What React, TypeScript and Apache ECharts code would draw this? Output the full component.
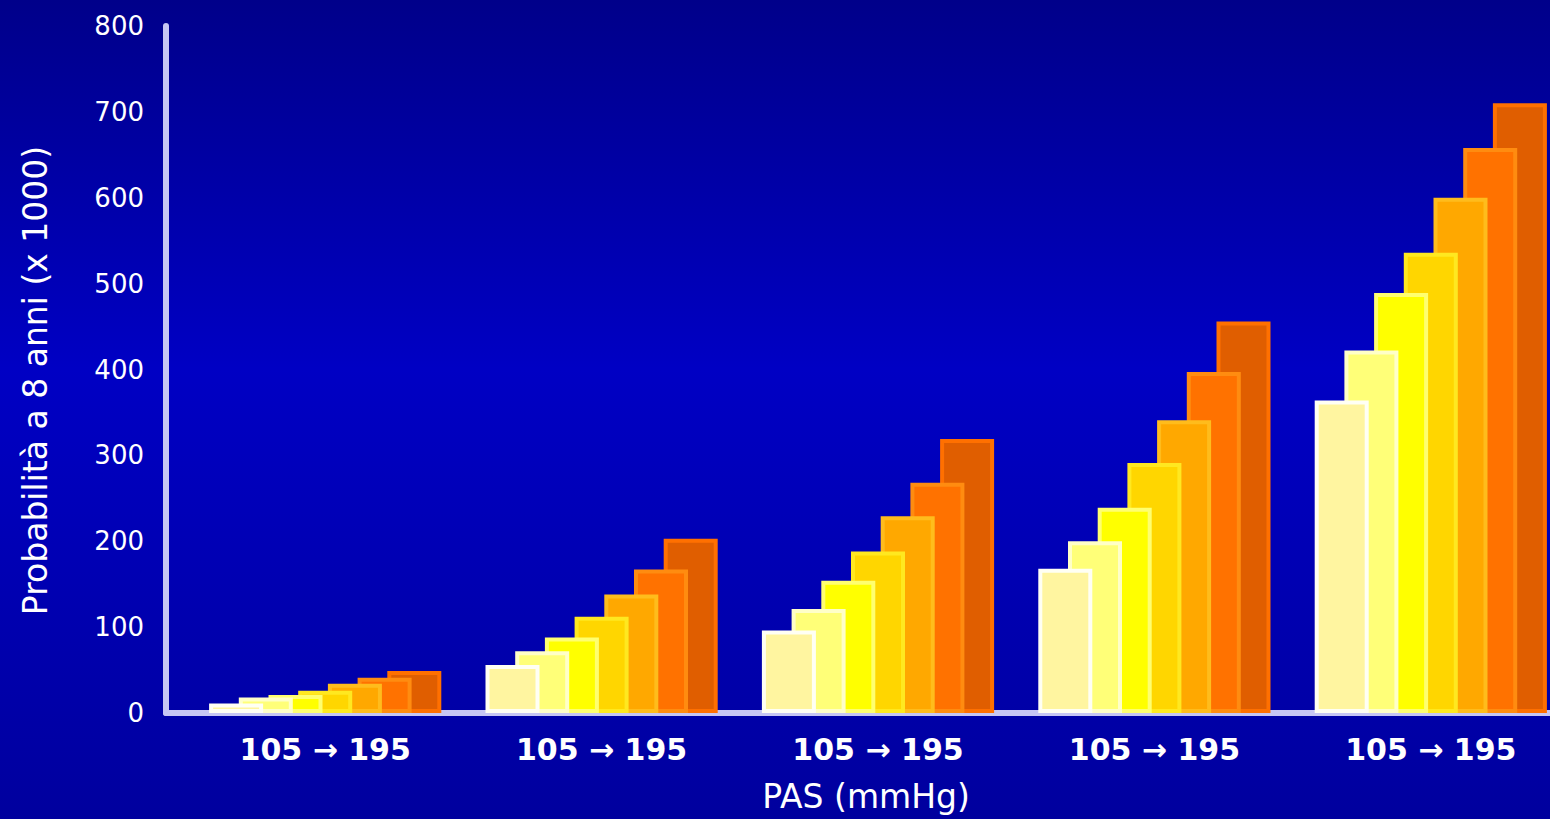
import React, { useEffect, useRef } from "react";
import * as echarts from "echarts";

// Five groups, each showing systolic pressure from 105 to 195 mmHg in steps of 15
const categories = ["105 → 195", "105 → 195", "105 → 195", "105 → 195", "105 → 195"];
const sbpLevels = ["105", "120", "135", "150", "165", "180", "195"];

// 8-year probability (x 1000) per group, one array per pressure level
const pas105 = [11, 56, 96, 168, 364];
const pas120 = [18, 72, 121, 200, 422];
const pas135 = [21, 88, 154, 239, 489];
const pas150 = [26, 112, 188, 291, 536];
const pas165 = [34, 138, 229, 341, 600];
const pas180 = [41, 167, 268, 397, 658];
const pas195 = [49, 203, 319, 456, 710];

const levelValues = [pas105, pas120, pas135, pas150, pas165, pas180, pas195];

const yTicks = { min: 0, max: 800, step: 100 };

const fills = ["#FFF5A0", "#FFFF78", "#FFFF00", "#FFD600", "#FFA800", "#FF7200", "#E05E00"];
const borders = ["#FFFFF4", "#FFFFC8", "#FFFF70", "#FFE820", "#FFBC1C", "#FF8C10", "#FF7000"];

const FONT = "DejaVu Sans";

export default function App() {
  const ref = useRef<HTMLDivElement>(null);

  useEffect(() => {
    if (!ref.current) return;
    const chart = echarts.init(ref.current, undefined, { renderer: "svg" });

    const series = levelValues.map((vals, i) => ({
      type: "bar",
      name: sbpLevels[i],
      xAxisIndex: 0,
      yAxisIndex: 0,
      data: vals,
      barWidth: 54,
      barGap: "-45%",
      z: 20 - i,
      itemStyle: {
        color: fills[i],
        borderColor: borders[i],
        borderWidth: 4,
      },
    }));

    chart.setOption({
      animation: false,
      backgroundColor: {
        type: "linear",
        x: 0,
        y: 0,
        x2: 0,
        y2: 1,
        colorStops: [
          { offset: 0, color: "#00008A" },
          { offset: 0.45, color: "#0000C4" },
          { offset: 1, color: "#00009E" },
        ],
      },
      grid: [
        // bars
        { left: 187, width: 1382, top: 26, bottom: 106, outerBoundsMode: "none", containLabel: false },
        // visible axes frame
        { left: 166, right: 0, top: 26, bottom: 106, outerBoundsMode: "none", containLabel: false },
      ],
      xAxis: [
        {
          type: "category",
          gridIndex: 0,
          data: categories,
          axisLine: { show: false },
          axisTick: { show: false },
          axisLabel: {
            color: "#FFFFFF",
            fontFamily: FONT,
            fontWeight: "bold",
            fontSize: 30,
            margin: 21,
          },
        },
        {
          type: "category",
          gridIndex: 1,
          data: [],
          offset: 3,
          axisLine: { show: true, lineStyle: { color: "#C6C6F4", width: 6 } },
          axisTick: { show: false },
          axisLabel: { show: false },
          name: "PAS (mmHg)",
          nameLocation: "middle",
          nameGap: 64,
          nameTextStyle: {
            color: "#FFFFFF",
            fontFamily: FONT,
            fontSize: 33,
            padding: [0, 0, 0, 16],
          },
        },
      ],
      yAxis: [
        {
          type: "value",
          gridIndex: 0,
          min: yTicks.min,
          max: yTicks.max,
          interval: yTicks.step,
          show: false,
        },
        {
          type: "value",
          gridIndex: 1,
          min: yTicks.min,
          max: yTicks.max,
          interval: yTicks.step,
          axisLine: { show: true, lineStyle: { color: "#C6C6F4", width: 6 } },
          axisTick: { show: false },
          splitLine: { show: false },
          axisLabel: {
            color: "#FFFFFF",
            fontFamily: FONT,
            fontSize: 26,
            margin: 22,
          },
          name: "Probabilità a 8 anni (x 1000)",
          nameLocation: "middle",
          nameGap: 114,
          nameTextStyle: {
            color: "#FFFFFF",
            fontFamily: FONT,
            fontSize: 33,
            padding: [0, 22, 0, 0],
          },
        },
      ],
      series,
    });

    return () => chart.dispose();
  }, []);

  return (
    <div
      ref={ref}
      style={{ position: "absolute", left: 0, top: 0, width: 1550, height: 819 }}
    />
  );
}
